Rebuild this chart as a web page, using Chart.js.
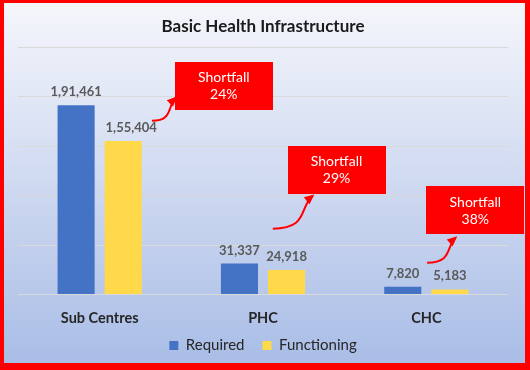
<!DOCTYPE html>
<html>
<head>
<meta charset="utf-8">
<script src="https://cdn.jsdelivr.net/npm/chart.js@4.4.1/dist/chart.umd.min.js"></script>
<style>
  html, body { margin: 0; padding: 0; }
  body { width: 530px; height: 370px; background: #ff0000; position: relative; overflow: hidden; }
  #panel { position: absolute; left: 4px; top: 3px; width: 521px; height: 360px;
           background: linear-gradient(to bottom, #f5f6fb 0%, #a9bde6 100%); }
  #chart { position: absolute; left: 0; top: 0; }
</style>
</head>
<body>
<div id="panel"></div>
<canvas id="chart" width="530" height="370"></canvas>
<script>
/* data */
const categories = ['Sub Centres', 'PHC', 'CHC'];
const required = [191461, 31337, 7820];
const functioning = [155404, 24918, 5183];
const shortfall = ['24%', '29%', '38%'];
const Y_MAX = 250000, Y_STEP = 50000;

/* callout placement, in (category offset, value) units */
const CALLOUTS = [
  { box: [0.76, 211000], tail: [0.32, 175700], head: [0.465, 199000] },
  { box: [0.45, 126300], tail: [0.06, 66700],  head: [0.305, 100000] },
  { box: [0.30, 85300],  tail: [0.005, 32300], head: [0.18, 57600] }
];

const FONT = 'Lato, "Open Sans", sans-serif';

// 1,91,461 style grouping
function fmtIN(n) {
  const s = String(n);
  if (s.length <= 3) return s;
  const last3 = s.slice(-3);
  let rest = s.slice(0, -3);
  const parts = [];
  while (rest.length > 2) { parts.unshift(rest.slice(-2)); rest = rest.slice(0, -2); }
  if (rest) parts.unshift(rest);
  return parts.join(',') + ',' + last3;
}

/* value labels above bars */
const valueLabels = {
  id: 'valueLabels',
  afterDatasetsDraw(chart) {
    const ctx = chart.ctx;
    ctx.save();
    ctx.font = `bold 13px ${FONT}`;
    ctx.fillStyle = '#595959';
    ctx.textAlign = 'center';
    ctx.textBaseline = 'alphabetic';
    chart.data.datasets.forEach((ds, di) => {
      chart.getDatasetMeta(di).data.forEach((bar, i) => {
        let x = bar.x;
        if (di === 1 && i === 0) x += 8; // nudged right in the original
        ctx.fillText(fmtIN(ds.data[i]), x, bar.y - 9);
      });
    });
    ctx.restore();
  }
};

/* pull the legend up a little, closer to the axis labels */
const legendNudge = {
  id: 'legendNudge',
  afterLayout(chart) {
    if (chart.legend) { chart.legend.top -= 22; chart.legend.bottom -= 22; }
  }
};

/* red shortfall boxes with curved arrows */
const callouts = {
  id: 'callouts',
  afterDraw(chart) {
    const ctx = chart.ctx;
    const xs = chart.scales.x, ys = chart.scales.y;
    const catW = xs.getPixelForValue(1) - xs.getPixelForValue(0);
    const pt = (i, p) => ({ x: xs.getPixelForValue(i) + p[0] * catW, y: ys.getPixelForValue(p[1]) });
    ctx.save();
    CALLOUTS.forEach((c, i) => {
      const b = pt(i, c.box), t = pt(i, c.tail), h = pt(i, c.head);
      const w = 98, hh = 48;
      ctx.fillStyle = '#ff0000';
      ctx.fillRect(Math.round(b.x - w / 2), Math.round(b.y - hh / 2), w, hh);
      ctx.fillStyle = '#ffffff';
      ctx.font = `14px ${FONT}`;
      ctx.textAlign = 'center';
      ctx.textBaseline = 'middle';
      ctx.fillText('Shortfall', b.x, b.y - 8);
      ctx.fillText(shortfall[i], b.x, b.y + 9);

      // arrow
      const dx = h.x - t.x, dy = t.y - h.y;
      const c1 = { x: t.x + dx * 0.9, y: t.y };
      const c2 = { x: h.x - dx * 0.35, y: h.y + dy * 0.35 };
      ctx.strokeStyle = '#ff0000';
      ctx.lineWidth = 2;
      ctx.beginPath();
      ctx.moveTo(t.x, t.y);
      ctx.bezierCurveTo(c1.x, c1.y, c2.x, c2.y, h.x, h.y);
      ctx.stroke();
      const ang = Math.atan2(h.y - c2.y, h.x - c2.x);
      const L = 8, W = 4.5;
      ctx.fillStyle = '#ff0000';
      ctx.beginPath();
      ctx.moveTo(h.x + Math.cos(ang) * 2, h.y + Math.sin(ang) * 2);
      ctx.lineTo(h.x - Math.cos(ang) * L + Math.sin(ang) * W, h.y - Math.sin(ang) * L - Math.cos(ang) * W);
      ctx.lineTo(h.x - Math.cos(ang) * L - Math.sin(ang) * W, h.y - Math.sin(ang) * L + Math.cos(ang) * W);
      ctx.closePath();
      ctx.fill();
    });
    ctx.restore();
  }
};

new Chart(document.getElementById('chart').getContext('2d'), {
  type: 'bar',
  data: {
    labels: categories,
    datasets: [
      { label: 'Required', data: required, backgroundColor: '#4472c4',
        barPercentage: 0.787, categoryPercentage: 0.577 },
      { label: 'Functioning', data: functioning, backgroundColor: '#ffd94a',
        barPercentage: 0.787, categoryPercentage: 0.577 }
    ]
  },
  options: {
    responsive: false,
    animation: false,
    devicePixelRatio: 1,
    layout: { padding: { left: 18, right: 22, top: 0, bottom: -15 } },
    plugins: {
      title: {
        display: true,
        text: 'Basic Health Infrastructure',
        color: '#1a1a1a',
        font: { family: FONT, size: 17, weight: 'bold' },
        padding: { top: 16, bottom: 11 }
      },
      legend: {
        position: 'bottom',
        labels: {
          color: '#262626',
          font: { family: FONT, size: 15 },
          boxWidth: 9, boxHeight: 9, padding: 18
        }
      },
      tooltip: { enabled: false }
    },
    scales: {
      x: {
        grid: { display: false, drawTicks: false },
        border: { display: false },
        ticks: { color: '#262626', font: { family: FONT, size: 14.5, weight: 'bold' }, padding: 15 }
      },
      y: {
        min: 0, max: Y_MAX,
        ticks: { display: false, stepSize: Y_STEP },
        grid: { color: '#d9d9d9', drawTicks: false },
        border: { display: false }
      }
    }
  },
  plugins: [valueLabels, legendNudge, callouts]
});
</script>
</body>
</html>
